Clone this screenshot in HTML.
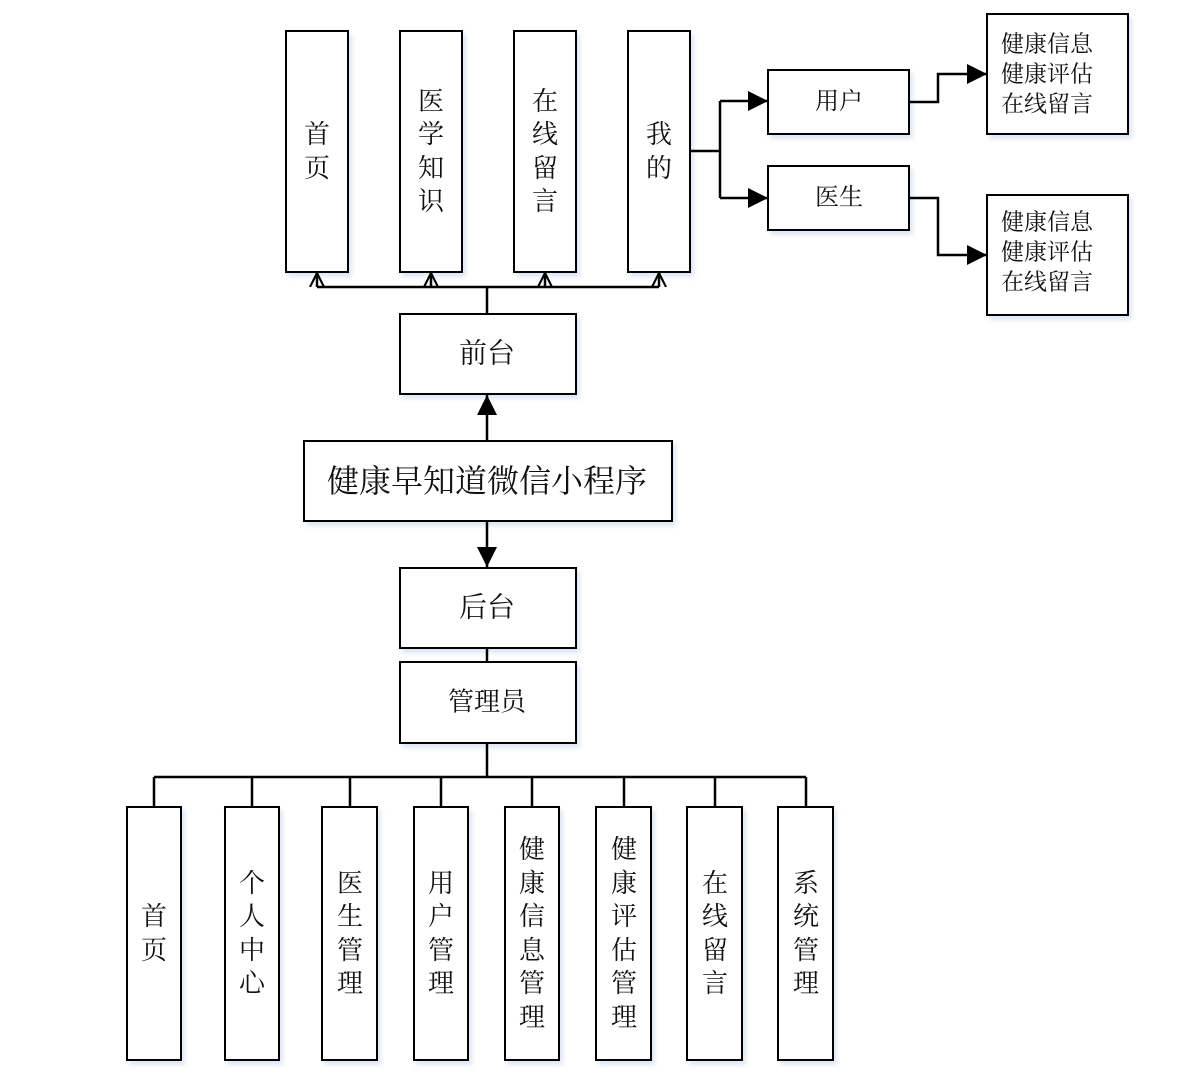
<!DOCTYPE html>
<html><head><meta charset="utf-8"><style>
html,body{margin:0;padding:0;background:#fff;}
svg{display:block;}
text{font-family:"Liberation Serif","Noto Serif CJK SC","Noto Sans CJK SC",serif;fill:#111;}
</style></head><body>
<svg width="1192" height="1091" viewBox="0 0 1192 1091" xmlns="http://www.w3.org/2000/svg">
<defs>
<marker id="fa" viewBox="0 0 10 10" refX="10" refY="5" markerWidth="20" markerHeight="20" markerUnits="userSpaceOnUse" orient="auto"><path d="M0,0 L10,5 L0,10 z" fill="#000"/></marker>
<marker id="oa" viewBox="0 0 10 10" refX="10" refY="5" markerWidth="14" markerHeight="16" markerUnits="userSpaceOnUse" orient="auto"><path d="M0,0 L10,5 L0,10" fill="none" stroke="#000" stroke-width="1.5"/></marker>
<filter id="sh" x="-10%" y="-10%" width="130%" height="130%"><feDropShadow dx="3" dy="4" stdDeviation="2" flood-color="#c8d8ee" flood-opacity="0.6"/></filter>
</defs>
<g fill="#fff" stroke="#000" stroke-width="2" filter="url(#sh)">
<rect x="286" y="31" width="62" height="241"/>
<rect x="400" y="31" width="62" height="241"/>
<rect x="514" y="31" width="62" height="241"/>
<rect x="628" y="31" width="62" height="241"/>
<rect x="768" y="70" width="141" height="64"/>
<rect x="768" y="166" width="141" height="64"/>
<rect x="987" y="14" width="141" height="120"/>
<rect x="987" y="195" width="141" height="120"/>
<rect x="400" y="314" width="176" height="80"/>
<rect x="304" y="441" width="368" height="80"/>
<rect x="400" y="568" width="176" height="80"/>
<rect x="400" y="662" width="176" height="81"/>
<rect x="127" y="807" width="54" height="253"/>
<rect x="225" y="807" width="54" height="253"/>
<rect x="322" y="807" width="55" height="253"/>
<rect x="414" y="807" width="54" height="253"/>
<rect x="505" y="807" width="54" height="253"/>
<rect x="596" y="807" width="55" height="253"/>
<rect x="687" y="807" width="55" height="253"/>
<rect x="778" y="807" width="55" height="253"/>
</g>
<g fill="none" stroke="#000" stroke-width="2.5">
<path d="M317,287 L659,287 M487,287 L487,314"/>
<path d="M317,287 L317,273" marker-end="url(#oa)"/>
<path d="M431,287 L431,273" marker-end="url(#oa)"/>
<path d="M545,287 L545,273" marker-end="url(#oa)"/>
<path d="M659,287 L659,273" marker-end="url(#oa)"/>
<path d="M690,151 L720,151 M720,101 L720,198"/>
<path d="M720,101 L768,101" marker-end="url(#fa)"/>
<path d="M720,198 L768,198" marker-end="url(#fa)"/>
<path d="M909,102 L938,102 L938,74 L987,74" marker-end="url(#fa)"/>
<path d="M909,198 L938,198 L938,255 L987,255" marker-end="url(#fa)"/>
<path d="M487,441 L487,395" marker-end="url(#fa)"/>
<path d="M487,521 L487,567" marker-end="url(#fa)"/>
<path d="M487,648 L487,662 M487,743 L487,777 M154,777 L806,777"/>
<path d="M154,777 L154,807 M252,777 L252,807 M350,777 L350,807 M441,777 L441,807 M532,777 L532,807 M624,777 L624,807 M715,777 L715,807 M806,777 L806,807"/>
</g>
<g font-size="26" text-anchor="middle" dominant-baseline="central">
<text x="317"><tspan x="317" y="134">首</tspan><tspan x="317" y="168">页</tspan></text>
<text><tspan x="431" y="101">医</tspan><tspan x="431" y="134">学</tspan><tspan x="431" y="168">知</tspan><tspan x="431" y="201">识</tspan></text>
<text><tspan x="545" y="101">在</tspan><tspan x="545" y="134">线</tspan><tspan x="545" y="168">留</tspan><tspan x="545" y="201">言</tspan></text>
<text><tspan x="659" y="134">我</tspan><tspan x="659" y="168">的</tspan></text>
<text font-size="24" x="839" y="102">用户</text>
<text font-size="24" x="839" y="198">医生</text>
<text x="487" y="354" font-size="28">前台</text>
<text x="487" y="481" font-size="32">健康早知道微信小程序</text>
<text x="487" y="608" font-size="28">后台</text>
<text x="487" y="702" font-size="26">管理员</text>
</g>
<g font-size="23" dominant-baseline="central">
<text x="1001" y="44">健康信息</text><text x="1001" y="74">健康评估</text><text x="1001" y="104">在线留言</text>
<text x="1001" y="222">健康信息</text><text x="1001" y="252">健康评估</text><text x="1001" y="282">在线留言</text>
</g>
<g font-size="26" text-anchor="middle" dominant-baseline="central">
<text><tspan x="154" y="916">首</tspan><tspan x="154" y="950">页</tspan></text>
<text><tspan x="252" y="883">个</tspan><tspan x="252" y="916">人</tspan><tspan x="252" y="950">中</tspan><tspan x="252" y="983">心</tspan></text>
<text><tspan x="350" y="883">医</tspan><tspan x="350" y="916">生</tspan><tspan x="350" y="950">管</tspan><tspan x="350" y="983">理</tspan></text>
<text><tspan x="441" y="883">用</tspan><tspan x="441" y="916">户</tspan><tspan x="441" y="950">管</tspan><tspan x="441" y="983">理</tspan></text>
<text><tspan x="532" y="849">健</tspan><tspan x="532" y="883">康</tspan><tspan x="532" y="916">信</tspan><tspan x="532" y="950">息</tspan><tspan x="532" y="983">管</tspan><tspan x="532" y="1017">理</tspan></text>
<text><tspan x="624" y="849">健</tspan><tspan x="624" y="883">康</tspan><tspan x="624" y="916">评</tspan><tspan x="624" y="950">估</tspan><tspan x="624" y="983">管</tspan><tspan x="624" y="1017">理</tspan></text>
<text><tspan x="715" y="883">在</tspan><tspan x="715" y="916">线</tspan><tspan x="715" y="950">留</tspan><tspan x="715" y="983">言</tspan></text>
<text><tspan x="806" y="883">系</tspan><tspan x="806" y="916">统</tspan><tspan x="806" y="950">管</tspan><tspan x="806" y="983">理</tspan></text>
</g>
</svg>
</body></html>
